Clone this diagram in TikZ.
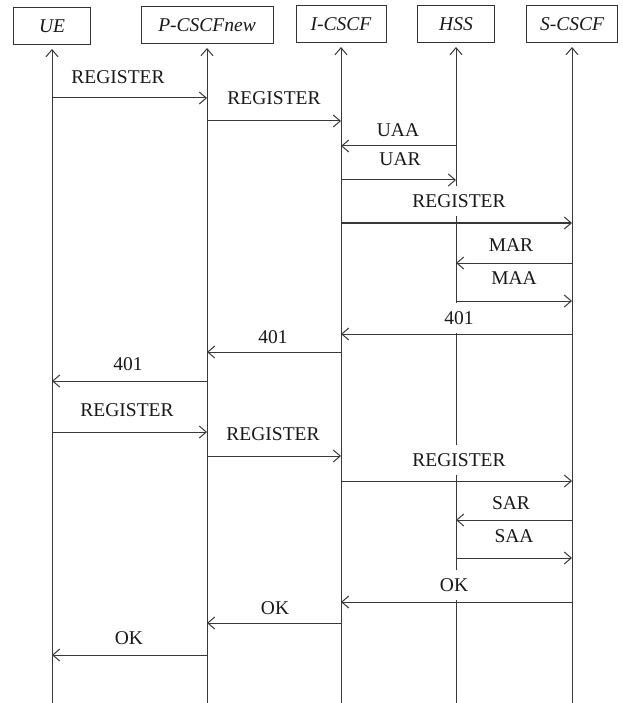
\documentclass[tikz,border=0pt]{standalone}
\usepackage{fontspec}
\setmainfont{Liberation Serif}
\usetikzlibrary{arrows.meta,calc}
\begin{document}
\begin{tikzpicture}[x=1pt,y=-1pt,
  actor/.style={draw=black!80, line width=1pt, minimum height=37pt, inner sep=0pt,
    font=\fontsize{19.5}{22}\selectfont\itshape, text=black!90},
  life/.style={draw=black!78, line width=1pt, -{Straight Barb[length=7pt,width=12pt]}},
  msg/.style={draw=black!78, line width=1pt, -{Straight Barb[length=7pt,width=12pt]}},
  lbl/.style={fill=white, inner xsep=2pt, inner ysep=8pt,
    font=\fontsize{19.5}{22}\selectfont, text=black!90},
]
\path[use as bounding box] (0,0) rectangle (622,703);

% participants
\node[actor, minimum width=77pt]  (ue)  at (52,26)  {UE};
\node[actor, minimum width=132pt] (pc)  at (207,25) {P-CSCFnew};
\node[actor, minimum width=90pt]  (ic)  at (341,24) {I-CSCF};
\node[actor, minimum width=77pt]  (hss) at (456,24) {HSS};
\node[actor, minimum width=91pt]  (sc)  at (572,24) {S-CSCF};

\coordinate (bot) at (0,703);

% lifelines
\foreach \p in {ue,pc,ic,hss,sc}
  \draw[life] (\p |- bot) -- ([yshift=-4pt]\p.south);

% message rows
\foreach \n/\y in {1/98,2/121,3/146,4/180,5/223,6/263,7/301,8/334,9/352,10/381,
                   11/432,12/456,13/481,14/520,15/558,16/602,17/623,18/655}
  \coordinate (r\n) at (0,\y);

% labels
\node[lbl] (l1)  at (118,77)  {REGISTER};
\node[lbl] (l2)  at (274,98)  {REGISTER};
\node[lbl] (l3)  at (398,130) {UAA};
\node[lbl] (l4)  at (400,159) {UAR};
\node[lbl] (l5)  at (459,201) {REGISTER};
\node[lbl] (l6)  at (511,245) {MAR};
\node[lbl] (l7)  at (514,278) {MAA};
\node[lbl] (l8)  at (459,318) {401};
\node[lbl] (l9)  at (273,337) {401};
\node[lbl] (l10) at (128,364) {401};
\node[lbl] (l11) at (127,410) {REGISTER};
\node[lbl] (l12) at (273,434) {REGISTER};
\node[lbl] (l13) at (459,460) {REGISTER};
\node[lbl] (l14) at (511,503) {SAR};
\node[lbl] (l15) at (514,536) {SAA};
\node[lbl] (l16) at (454,585) {OK};
\node[lbl] (l17) at (275,608) {OK};
\node[lbl] (l18) at (129,638) {OK};

% messages
\draw[msg] (ue |- r1) -- (pc |- r1);
\draw[msg] (pc |- r2) -- (ic |- r2);
\draw[msg] (hss |- r3) -- (ic |- r3);
\draw[msg] (ic |- r4) -- (hss |- r4);
\draw[msg] (ic |- r5) -- (sc |- r5);
\draw[msg] (sc |- r6) -- (hss |- r6);
\draw[msg] (hss |- r7) -- (sc |- r7);
\draw[msg] (sc |- r8) -- (ic |- r8);
\draw[msg] (ic |- r9) -- (pc |- r9);
\draw[msg] (pc |- r10) -- (ue |- r10);
\draw[msg] (ue |- r11) -- (pc |- r11);
\draw[msg] (pc |- r12) -- (ic |- r12);
\draw[msg] (ic |- r13) -- (sc |- r13);
\draw[msg] (sc |- r14) -- (hss |- r14);
\draw[msg] (hss |- r15) -- (sc |- r15);
\draw[msg] (sc |- r16) -- (ic |- r16);
\draw[msg] (ic |- r17) -- (pc |- r17);
\draw[msg] (pc |- r18) -- (ue |- r18);
\end{tikzpicture}
\end{document}
